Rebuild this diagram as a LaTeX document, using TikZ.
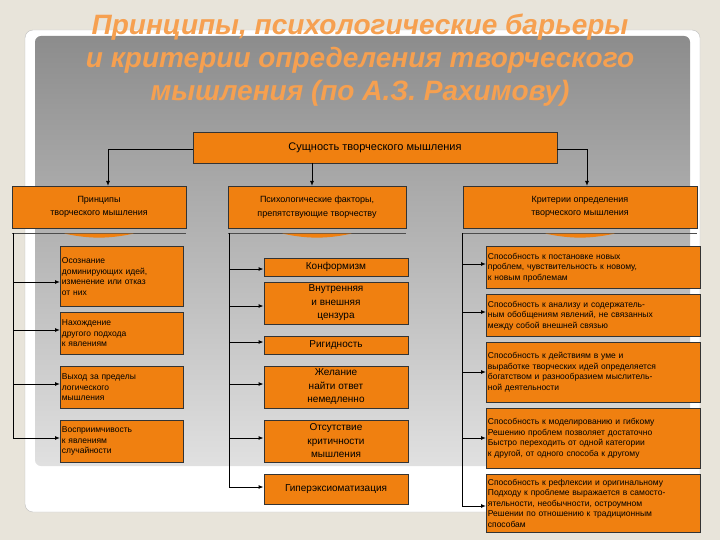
\documentclass[tikz,border=0pt]{standalone}
\usepackage{fontspec}
\setmainfont{Liberation Sans}
\usetikzlibrary{arrows.meta}
\definecolor{bgc}{RGB}{232,228,218}
\definecolor{org}{RGB}{240,128,16}
\definecolor{ttl}{RGB}{246,160,80}
\tikzset{x=1pt,y=-1pt,
 box/.style={draw=black!80,fill=org,line width=0.8pt,inner sep=1.5pt,font=\fontsize{8.5}{10.5}\selectfont},
 lbox/.style={box,anchor=north west,align=left,text width=#1},
 cbox/.style={box,align=center,font=\fontsize{10}{13.5}\selectfont},
 arr/.style={-{Latex[length=5pt,width=4pt]},line width=1pt},
 ln/.style={line width=1pt}}
\begin{document}
\begin{tikzpicture}
\useasboundingbox (0,0) rectangle (720,540);
\fill[bgc] (0,0) rectangle (720,540);
\fill[white,rounded corners=8pt,draw=black!25] (25,30) rectangle (700,512);
\shade[top color=black!45,bottom color=black!12,rounded corners=6pt] (35,36) rectangle (690,466);
% title
\node[font=\bfseries\itshape\fontsize{28}{33}\selectfont,text=ttl,align=center] (title) at (360,60) {Принципы, психологические барьеры\\и критерии определения творческого\\мышления (по А.З. Рахимову)};
% top
\node[box,minimum width=364,minimum height=31,font=\fontsize{11}{12}\selectfont] (top) at (375,147.5) {Сущность творческого мышления};
\node[box,align=center,minimum width=174,minimum height=42,font=\fontsize{9}{13.5}\selectfont] (h1) at (99,207) {Принципы\\творческого мышления};
\node[box,align=center,minimum width=178,minimum height=42,font=\fontsize{9}{13.5}\selectfont] (h2) at (317,207) {Психологические факторы,\\препятствующие творчеству};
\node[box,align=center,minimum width=234,minimum height=42,font=\fontsize{9}{13.5}\selectfont] (h3) at (580,207) {Критерии определения\\творческого мышления};
\draw[arr] (top.west|-0,150) -| (108,186);
\draw[arr] (312,163) -- (312,186);
\draw[arr] (top.east|-0,150) -| (587,186);
% under-header lines
\foreach \a/\b in {12/186,228/406,463/697}{
 \draw[black!70,line width=0.6pt] (\a,233) -- (\b,233);
 \fill[org] ({(\a+\b)/2-35},233.5) .. controls ({(\a+\b)/2-10},239) and ({(\a+\b)/2+10},239) .. ({(\a+\b)/2+35},233.5) -- cycle;
}
% left column
\coordinate (lc0) at (13,233);
\node[lbox=120pt,minimum height=60] (l1) at (60,246) {Осознание\\доминирующих идей,\\изменение или отказ\\от них};
\node[lbox=120pt,minimum height=42] (l2) at (60,312) {Нахождение\\другого подхода\\к явлениям};
\node[lbox=120pt,minimum height=42] (l3) at (60,366) {Выход за пределы\\логического\\мышления};
\node[lbox=120pt,minimum height=42] (l4) at (60,420) {Восприимчивость\\к явлениям\\случайности};
\coordinate (lc1) at (13,438);
\draw[ln] (lc0) -- (lc1);
\draw[arr] (13,282) -- (60,282);
\draw[arr] (13,330) -- (60,330);
\draw[arr] (13,384) -- (60,384);
\draw[arr] (lc1) -- (60,438);
% center
\coordinate (cc0) at (229,233);
\node[cbox,minimum width=144,minimum height=18] (c1) at (336,267) {Конформизм};
\node[cbox,minimum width=144,minimum height=42] (c2) at (336,303) {Внутренняя\\и внешняя\\цензура};
\node[cbox,minimum width=144,minimum height=18] (c3) at (336,345) {Ригидность};
\node[cbox,minimum width=144,minimum height=42] (c4) at (336,387) {Желание\\найти ответ\\немедленно};
\node[cbox,minimum width=144,minimum height=42] (c5) at (336,441) {Отсутствие\\критичности\\мышления};
\node[cbox,minimum width=144,minimum height=30] (c6) at (336,489) {Гиперэксиоматизация};
\coordinate (cc1) at (229,487);
\draw[ln] (cc0) -- (cc1);
\foreach \n/\y in {c1/269,c2/306,c3/342,c4/384,c5/438}{\draw[arr] (229,\y) -- (\n.west|-0,\y);}
\draw[arr] (cc1) -- (c6.west|-cc1);
% right
\coordinate (rc0) at (462,233);
\node[lbox=211pt,minimum height=42] (r1) at (486,246) {Способность к постановке новых\\проблем, чувствительность к новому,\\к новым проблемам};
\node[lbox=211pt,minimum height=42] (r2) at (486,294) {Способность к анализу и содержатель-\\ным обобщениям явлений, не связанных\\между собой внешней связью};
\node[lbox=211pt,minimum height=60] (r3) at (486,342) {Способность к действиям в уме и\\выработке творческих идей определяется\\богатством и разнообразием мыслитель-\\ной деятельности};
\node[lbox=211pt,minimum height=60] (r4) at (486,408) {Способность к моделированию и гибкому\\Решению проблем позволяет достаточно\\Быстро переходить от одной категории\\ к другой, от одного способа к другому};
\node[lbox=211pt,minimum height=58] (r5) at (486,474) {Способность к рефлексии и оригинальному\\Подходу к проблеме выражается в самосто-\\ятельности, необычности, остроумном\\Решении по отношению к традиционным\\способам};
\coordinate (rc1) at (462,506);
\draw[ln] (rc0) -- (rc1);
\foreach \n/\y in {r1/264,r2/312,r3/372,r4/438}{\draw[arr] (462,\y) -- (486,\y);}
\draw[arr] (rc1) -- (486,506);
\end{tikzpicture}
\end{document}
